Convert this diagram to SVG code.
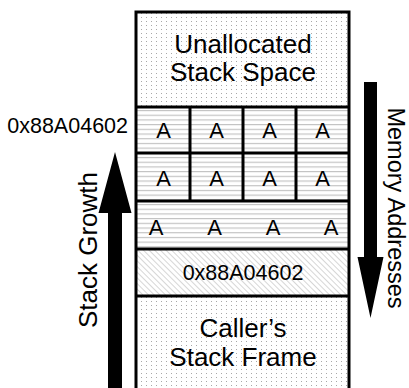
<svg xmlns="http://www.w3.org/2000/svg" width="409" height="388" viewBox="0 0 409 388">
  <defs>
    <pattern id="dots" patternUnits="userSpaceOnUse" width="5" height="4">
      <rect x="1" y="1" width="1" height="1" fill="#a8a8a8"/>
    </pattern>
    <pattern id="hlines" patternUnits="userSpaceOnUse" width="10" height="4.7">
      <rect x="0" y="2" width="10" height="1" fill="#b8b8b8"/>
    </pattern>
    <pattern id="hatch" patternUnits="userSpaceOnUse" width="4" height="4" patternTransform="rotate(-45)">
      <rect x="0" y="0" width="1" height="4" fill="#d6d6d6"/>
    </pattern>
  </defs>
  <style>
    .t { font-family: "Liberation Sans", Arial, sans-serif; fill: #000; }
    .big { font-size: 26px; text-anchor: middle; }
    .a { font-size: 22px; text-anchor: middle; }
    .addr { font-size: 21.5px; }
    .rule { stroke: #000; stroke-width: 3; fill: none; }
  </style>

  <rect width="409" height="388" fill="#fff"/>

  <!-- stack column -->
  <g id="unallocated">
    <rect x="136" y="12" width="213" height="95" fill="url(#dots)"/>
    <text class="t big" x="243" y="53">Unallocated</text>
    <text class="t big" x="243" y="81">Stack Space</text>
  </g>

  <g id="row1">
    <rect x="136" y="107" width="213" height="46" fill="url(#hlines)"/>
    <text class="t a" x="163.5" y="138">A</text>
    <text class="t a" x="216.5" y="138">A</text>
    <text class="t a" x="269.5" y="138">A</text>
    <text class="t a" x="322.5" y="138">A</text>
  </g>

  <g id="row2">
    <rect x="136" y="153" width="213" height="48" fill="url(#hlines)"/>
    <text class="t a" x="163.5" y="186">A</text>
    <text class="t a" x="216.5" y="186">A</text>
    <text class="t a" x="269.5" y="186">A</text>
    <text class="t a" x="322.5" y="186">A</text>
  </g>

  <g id="row3">
    <rect x="136" y="201" width="213" height="48" fill="url(#hlines)"/>
    <text class="t a" x="156" y="235">A</text>
    <text class="t a" x="214.5" y="235">A</text>
    <text class="t a" x="273" y="235">A</text>
    <text class="t a" x="331" y="235">A</text>
  </g>

  <g id="return-address">
    <rect x="136" y="249" width="213" height="47" fill="url(#hatch)"/>
    <text class="t addr" x="243" y="280" text-anchor="middle">0x88A04602</text>
  </g>

  <g id="callers-frame">
    <rect x="136" y="296" width="213" height="95" fill="url(#dots)"/>
    <text class="t big" x="243" y="337">Caller’s</text>
    <text class="t big" x="243" y="366">Stack Frame</text>
  </g>

  <!-- frame and dividers -->
  <g id="grid">
    <path class="rule" d="M136,392 V12 H349 V392"/>
    <path class="rule" d="M136,107 H349 M136,153 H349 M136,201 H349 M136,249 H349 M136,296 H349"/>
    <path class="rule" d="M190,107 V201 M243,107 V201 M296,107 V201"/>
  </g>

  <g id="address-label">
    <text class="t addr" x="128" y="133" text-anchor="end">0x88A04602</text>
  </g>

  <!-- direction arrows -->
  <g id="connectors">
    <path id="growth-arrow" d="M108,388 V213 H98.5 L115,152 L131.5,213 H122 V388 Z" fill="#000"/>
    <path id="address-arrow" d="M364,82 H377 V257 H383.5 L370.5,318 L357.5,257 H364 Z" fill="#000"/>
  </g>

  <g id="axis-labels">
    <text class="t big" transform="translate(97,250) rotate(-90)" x="0" y="0">Stack Growth</text>
    <text class="t" font-size="23.5" text-anchor="middle" transform="translate(388,208) rotate(90)" x="0" y="0">Memory Addresses</text>
  </g>
</svg>
